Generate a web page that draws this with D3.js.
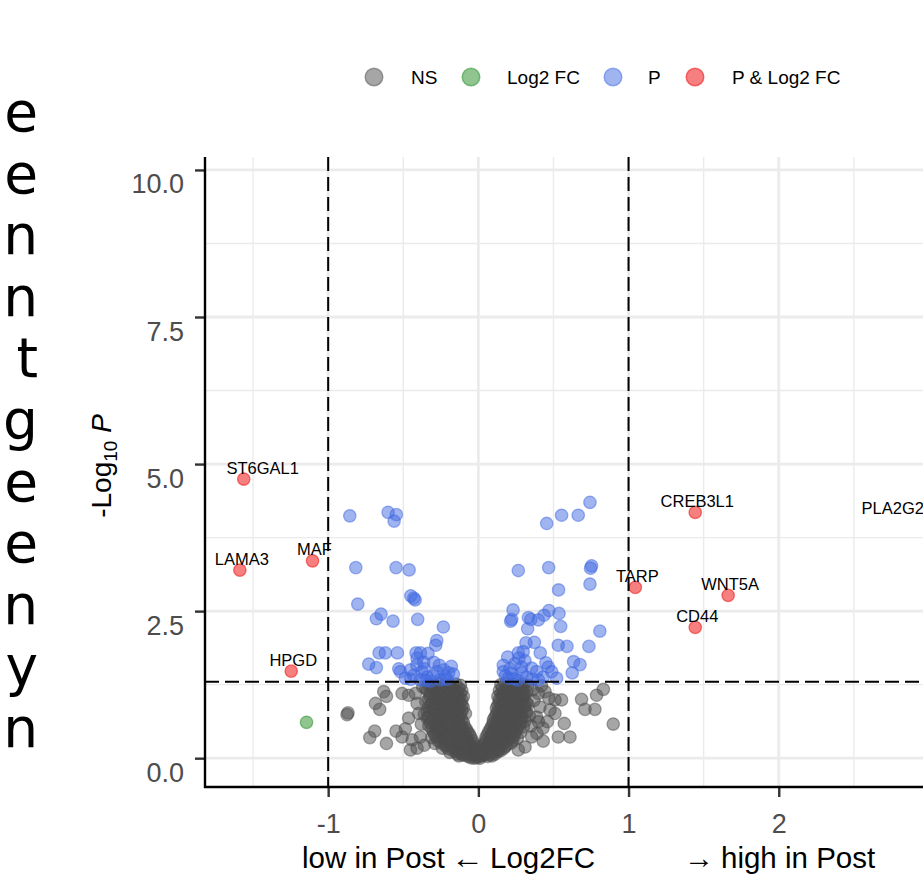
<!DOCTYPE html>
<html><head><meta charset="utf-8">
<script src="https://cdn.jsdelivr.net/npm/d3@7"></script>
<style>body{margin:0;background:#fff}svg{display:block}</style>
</head><body>
<svg id="chart" width="923" height="884"></svg>
<script>
// ---------------- DATA ----------------
const categories = ["NS", "Log2 FC", "P", "P & Log2 FC"];
const xTicks = [-1, 0, 1, 2];
const xTickLabels = ["-1", "0", "1", "2"];
const xMinorTicks = [-1.5, -0.5, 0.5, 1.5, 2.5];
const yTicks = [0, 2.5, 5, 7.5, 10];
const yTickLabels = ["0.0", "2.5", "5.0", "7.5", "10.0"];
const yMinorTicks = [1.25, 3.75, 6.25, 8.75];
const fcCutoff = 1;
const pCutoff = 0.05;
const xTitleParts = ["low in Post", "\u2190", "Log2FC", "\u2192", "high in Post"];

// log2FC, -log10 P for "P & Log2 FC" genes
const sigGenes = ["ST6GAL1", "LAMA3", "MAF", "HPGD", "CREB3L1", "TARP", "WNT5A", "CD44", "PLA2G2A"];
const sigLog2FC = [-1.562, -1.588, -1.104, -1.246, 1.444, 1.045, 1.663, 1.444, 3.25];
const sigNegLog10P = [4.745, 3.197, 3.355, 1.480, 4.178, 2.903, 2.767, 2.223, 4.05];

// "Log2 FC" only
const fcPoints = [[-1.144, 0.61]];

// "P" only (blue)
const pPoints = [
 [-0.856,4.12],[-0.601,4.18],[-0.546,4.14],[-0.561,4.03],[-0.816,3.24],[-0.548,3.24],[-0.461,3.20],
 [-0.803,2.62],[-0.450,2.76],[-0.430,2.72],[-0.421,2.69],[-0.648,2.45],[-0.679,2.37],[-0.568,2.33],
 [-0.404,2.36],[-0.233,2.23],[-0.277,2.00],[-0.284,1.92],[-0.661,1.79],[-0.619,1.79],[-0.539,1.79],
 [-0.415,1.79],[-0.386,1.79],[-0.335,1.78],[-0.730,1.60],[-0.679,1.54],[-0.530,1.52],[-0.408,1.70],
 [-0.364,1.63],[-0.297,1.63],[-0.180,1.56],[-0.166,1.43],[-0.452,1.50],[-0.430,1.41],[-0.375,1.47],
 [-0.341,1.38],[-0.275,1.47],[-0.231,1.50],[-0.220,1.39],[-0.486,1.36],[-0.519,1.47],[-0.319,1.31],
 [-0.253,1.33],[-0.386,1.33],[-0.198,1.45],[-0.41,1.58],[-0.36,1.52],[-0.30,1.40],[-0.26,1.58],
 [-0.21,1.34],[-0.35,1.32],[-0.45,1.34],
 [0.743,4.35],[0.554,4.13],[0.665,4.13],[0.455,3.99],[0.266,3.19],[0.468,3.24],[0.754,3.27],[0.747,3.23],
 [0.743,2.96],[0.534,2.86],[0.231,2.52],[0.215,2.33],[0.222,2.36],[0.333,2.39],[0.350,2.36],[0.399,2.35],
 [0.437,2.43],[0.470,2.51],[0.537,2.46],[0.548,2.24],[0.328,2.20],[0.809,2.16],[0.317,1.96],[0.373,1.97],
 [0.532,1.92],[0.590,1.90],[0.736,1.90],[0.412,1.79],[0.266,1.79],[0.299,1.81],[0.195,1.72],[0.634,1.64],
 [0.677,1.59],[0.625,1.45],[0.166,1.58],[0.166,1.47],[0.244,1.61],[0.288,1.55],[0.355,1.53],[0.388,1.47],
 [0.466,1.55],[0.488,1.47],[0.521,1.36],[0.222,1.44],[0.321,1.38],[0.200,1.36],[0.432,1.38],[0.261,1.33],
 [0.31,1.66],[0.27,1.70],[0.21,1.52],[0.45,1.62],[0.18,1.40],[0.36,1.34],[0.24,1.35],[0.40,1.33],[0.29,1.45]
];

// "NS" (grey)
const nsPoints = [
 // scattered outer points, left
 [-0.874,0.74],[-0.868,0.77],[-0.630,1.13],[-0.612,1.05],[-0.685,0.93],[-0.657,0.83],[-0.690,0.46],
 [-0.723,0.35],[-0.612,0.25],[-0.548,0.46],[-0.464,0.68],[-0.486,0.50],[-0.508,1.10],[-0.464,1.07],
 [-0.419,1.10],[-0.408,0.93],[-0.397,0.76],[-0.441,0.31],[-0.452,0.14],[-0.508,0.36],[-0.386,0.36],
 [-0.408,0.17],[-0.086,0.76],[-0.37,1.21],[-0.38,0.58],[-0.36,0.22],
 // scattered outer points, right
 [0.687,1.00],[0.787,1.07],[0.832,1.17],[0.710,0.83],[0.776,0.83],[0.898,0.58],[0.572,0.59],[0.532,0.36],
 [0.610,0.36],[0.432,0.29],[0.510,0.99],[0.554,0.99],[0.510,0.76],[0.477,0.82],[0.444,1.13],[0.399,1.10],
 [0.410,0.87],[0.388,0.70],[0.355,0.36],[0.311,0.19],[0.266,0.14],[0.166,1.10],[0.188,1.21],[0.46,0.62],
 [0.43,0.51],[0.35,0.55],[0.33,0.91],[0.36,1.16],[0.42,1.23],[0.30,1.04],[0.37,0.98],[0.34,0.72],
 [0.39,0.42],[0.33,1.24],[0.40,0.62],[0.47,1.02],
 // dense left arm
 [-0.33,1.26],[-0.29,1.24],[-0.26,1.27],[-0.22,1.25],[-0.19,1.23],[-0.15,1.26],[-0.12,1.24],
 [-0.31,1.21],[-0.24,1.20],[-0.17,1.21],[-0.35,1.19],[-0.28,1.19],[-0.20,1.18],[-0.13,1.19],
 [-0.34,1.15],[-0.30,1.17],[-0.27,1.13],[-0.24,1.16],[-0.21,1.14],[-0.17,1.17],[-0.14,1.13],[-0.11,1.15],
 [-0.32,1.10],[-0.26,1.09],[-0.22,1.11],[-0.18,1.10],[-0.15,1.08],[-0.12,1.10],
 [-0.32,1.05],[-0.28,1.07],[-0.25,1.03],[-0.23,1.06],[-0.20,1.04],[-0.16,1.06],[-0.13,1.03],[-0.10,1.05],
 [-0.33,1.00],[-0.29,1.01],[-0.26,0.99],[-0.22,1.00],[-0.19,0.99],[-0.14,1.00],[-0.11,0.99],
 [-0.35,0.96],[-0.31,0.94],[-0.27,0.97],[-0.24,0.93],[-0.21,0.95],[-0.18,0.96],[-0.15,0.94],[-0.12,0.95],
 [-0.32,0.90],[-0.28,0.91],[-0.25,0.89],[-0.22,0.90],[-0.17,0.91],[-0.14,0.89],[-0.11,0.90],
 [-0.33,0.86],[-0.30,0.84],[-0.26,0.87],[-0.23,0.85],[-0.19,0.83],[-0.16,0.86],[-0.13,0.84],[-0.10,0.86],
 [-0.34,0.80],[-0.29,0.81],[-0.24,0.80],[-0.21,0.79],[-0.17,0.81],[-0.14,0.79],[-0.11,0.80],
 [-0.36,0.75],[-0.32,0.77],[-0.28,0.74],[-0.25,0.76],[-0.22,0.73],[-0.18,0.75],[-0.15,0.77],[-0.12,0.74],
 [-0.33,0.70],[-0.29,0.69],[-0.26,0.71],[-0.23,0.69],[-0.19,0.70],[-0.16,0.69],[-0.13,0.70],
 [-0.31,0.65],[-0.27,0.63],[-0.24,0.66],[-0.21,0.64],[-0.17,0.66],[-0.14,0.63],[-0.11,0.65],[-0.34,0.68],
 [-0.32,0.60],[-0.28,0.59],[-0.25,0.61],[-0.20,0.59],[-0.16,0.60],[-0.13,0.59],[-0.10,0.61],
 [-0.33,0.55],[-0.29,0.56],[-0.26,0.53],[-0.22,0.55],[-0.19,0.57],[-0.16,0.54],[-0.12,0.56],[-0.09,0.53],
 [-0.31,0.50],[-0.28,0.51],[-0.24,0.49],[-0.21,0.50],[-0.18,0.51],[-0.14,0.49],[-0.11,0.50],[-0.08,0.49],
 [-0.30,0.45],[-0.27,0.46],[-0.23,0.44],[-0.20,0.47],[-0.17,0.45],[-0.13,0.43],[-0.10,0.46],[-0.07,0.44],
 [-0.29,0.40],[-0.25,0.41],[-0.22,0.39],[-0.19,0.40],[-0.15,0.41],[-0.12,0.39],[-0.09,0.40],[-0.06,0.41],
 [-0.31,0.35],[-0.28,0.36],[-0.24,0.34],[-0.21,0.37],[-0.18,0.35],[-0.14,0.33],[-0.11,0.36],[-0.08,0.34],[-0.05,0.36],
 [-0.27,0.30],[-0.23,0.29],[-0.20,0.31],[-0.16,0.30],[-0.13,0.29],[-0.10,0.31],[-0.07,0.29],[-0.04,0.30],
 [-0.29,0.25],[-0.25,0.26],[-0.22,0.24],[-0.19,0.27],[-0.15,0.25],[-0.12,0.23],[-0.09,0.26],[-0.06,0.24],[-0.03,0.25],
 [-0.22,0.21],[-0.18,0.21],[-0.14,0.20],[-0.11,0.21],[-0.08,0.20],[-0.05,0.21],[-0.02,0.20],
 [-0.24,0.17],[-0.20,0.16],[-0.17,0.18],[-0.13,0.17],[-0.10,0.15],[-0.07,0.18],[-0.04,0.16],[-0.02,0.17],
 [-0.17,0.13],[-0.14,0.14],[-0.11,0.13],[-0.08,0.13],[-0.05,0.14],[-0.02,0.13],
 [-0.19,0.10],[-0.15,0.11],[-0.12,0.09],[-0.09,0.10],[-0.06,0.11],[-0.03,0.09],[-0.01,0.10],
 [-0.14,0.07],[-0.11,0.07],[-0.08,0.06],[-0.05,0.07],[-0.02,0.07],
 [-0.13,0.04],[-0.10,0.05],[-0.07,0.03],[-0.04,0.04],[-0.02,0.05],[0.00,0.03],
 [-0.05,0.01],[-0.03,0.00],[-0.01,0.01],[0.01,0.00],
 // dense right arm
 [0.15,1.25],[0.18,1.27],[0.21,1.24],[0.24,1.26],[0.27,1.23],[0.30,1.25],[0.20,1.20],[0.26,1.19],
 [0.16,1.20],[0.23,1.21],[0.29,1.20],
 [0.14,1.15],[0.17,1.13],[0.20,1.16],[0.23,1.14],[0.26,1.17],[0.29,1.15],[0.32,1.13],
 [0.15,1.10],[0.18,1.09],[0.21,1.11],[0.24,1.10],[0.27,1.09],[0.30,1.11],
 [0.13,1.05],[0.16,1.06],[0.19,1.03],[0.22,1.05],[0.25,1.07],[0.28,1.04],[0.31,1.08],
 [0.14,1.00],[0.17,0.99],[0.20,1.01],[0.23,0.99],[0.26,1.00],[0.29,1.02],
 [0.14,0.95],[0.17,0.94],[0.20,0.96],[0.23,0.93],[0.26,0.95],[0.29,0.97],[0.32,0.94],
 [0.13,0.90],[0.16,0.89],[0.19,0.91],[0.22,0.90],[0.25,0.89],[0.28,0.91],[0.31,0.89],
 [0.12,0.85],[0.15,0.87],[0.18,0.84],[0.21,0.86],[0.24,0.83],[0.27,0.85],[0.30,0.87],
 [0.13,0.80],[0.16,0.79],[0.19,0.81],[0.22,0.80],[0.25,0.79],[0.28,0.81],[0.31,0.80],
 [0.12,0.75],[0.14,0.73],[0.17,0.76],[0.20,0.74],[0.23,0.75],[0.26,0.77],[0.29,0.74],[0.32,0.78],
 [0.11,0.70],[0.14,0.69],[0.17,0.71],[0.20,0.69],[0.23,0.70],[0.26,0.71],[0.29,0.69],
 [0.10,0.65],[0.13,0.66],[0.16,0.63],[0.19,0.65],[0.22,0.67],[0.25,0.64],[0.28,0.66],[0.31,0.63],
 [0.10,0.60],[0.13,0.59],[0.16,0.61],[0.19,0.60],[0.22,0.59],[0.25,0.61],[0.28,0.60],
 [0.09,0.55],[0.12,0.56],[0.15,0.53],[0.18,0.55],[0.21,0.57],[0.24,0.54],[0.27,0.56],[0.30,0.53],
 [0.08,0.50],[0.11,0.51],[0.14,0.49],[0.17,0.50],[0.20,0.51],[0.23,0.49],[0.26,0.50],
 [0.07,0.45],[0.10,0.46],[0.13,0.44],[0.16,0.47],[0.19,0.45],[0.22,0.43],[0.25,0.46],[0.28,0.44],
 [0.06,0.40],[0.09,0.41],[0.12,0.39],[0.15,0.40],[0.18,0.41],[0.21,0.39],[0.24,0.40],
 [0.05,0.35],[0.08,0.36],[0.11,0.34],[0.14,0.37],[0.17,0.35],[0.20,0.33],[0.23,0.36],[0.26,0.34],
 [0.05,0.30],[0.08,0.29],[0.11,0.31],[0.14,0.30],[0.17,0.29],[0.20,0.31],[0.23,0.30],
 [0.04,0.25],[0.07,0.26],[0.10,0.24],[0.13,0.27],[0.16,0.25],[0.19,0.23],[0.22,0.26],
 [0.03,0.21],[0.06,0.20],[0.09,0.21],[0.12,0.20],[0.15,0.21],[0.18,0.20],
 [0.03,0.17],[0.05,0.16],[0.08,0.18],[0.11,0.17],[0.14,0.15],[0.17,0.17],
 [0.03,0.13],[0.06,0.14],[0.09,0.13],[0.12,0.14],[0.15,0.13],
 [0.02,0.10],[0.04,0.11],[0.07,0.09],[0.10,0.10],[0.13,0.11],
 [0.02,0.07],[0.05,0.07],[0.08,0.06],[0.11,0.07],
 [0.02,0.04],[0.04,0.05],[0.06,0.03],[0.09,0.04]
];

// cut-off text of a neighbouring panel (only last letters visible)
const sideTextFragments = ["e", "e", "n", "n", "t", "g", "e", "e", "n", "y", "n"];

// ---------------- STYLE ----------------
const catColors = {"NS": "#4d4d4d", "Log2 FC": "#228B22", "P": "#4169E1", "P & Log2 FC": "#EE0000"};
const FONT = "'Liberation Sans', Arial, Helvetica, sans-serif";
const labelNudge = {"ST6GAL1": 17};
const xTitleX = [302, 451, 490, 684, 721];
const xTitleLen = [null, 33, null, 30, null];

const svg = d3.select("#chart");
const panel = {left: 205, right: 927, top: 157, bottom: 787};

const x = d3.scaleLinear().domain([-1.82, 2.987]).range([panel.left, panel.right]);
const y = d3.scaleLinear().domain([-0.49, 10.22]).range([panel.bottom, panel.top]);

svg.append("defs").append("clipPath").attr("id", "pclip")
  .append("rect").attr("x", panel.left).attr("y", panel.top)
  .attr("width", panel.right - panel.left).attr("height", panel.bottom - panel.top);

// side text
svg.append("g").selectAll("text").data(sideTextFragments).join("text")
  .attr("x", 38).attr("y", (d, i) => 131 + i * 61.6)
  .attr("text-anchor", "end").attr("font-family", "'DejaVu Sans', sans-serif").attr("font-size", 55)
  .attr("fill", "#000").text(d => d);

// grid
const grid = svg.append("g");
grid.selectAll(".xmin").data(xMinorTicks).join("line")
  .attr("x1", d => x(d)).attr("x2", d => x(d)).attr("y1", panel.top).attr("y2", panel.bottom)
  .attr("stroke", "#ebebeb").attr("stroke-width", 1.4);
grid.selectAll(".ymin").data(yMinorTicks).join("line")
  .attr("y1", d => y(d)).attr("y2", d => y(d)).attr("x1", panel.left).attr("x2", panel.right)
  .attr("stroke", "#ebebeb").attr("stroke-width", 1.4);
grid.selectAll(".xmaj").data(xTicks).join("line")
  .attr("x1", d => x(d)).attr("x2", d => x(d)).attr("y1", panel.top).attr("y2", panel.bottom)
  .attr("stroke", "#ebebeb").attr("stroke-width", 2.8);
grid.selectAll(".ymaj").data(yTicks).join("line")
  .attr("y1", d => y(d)).attr("y2", d => y(d)).attr("x1", panel.left).attr("x2", panel.right)
  .attr("stroke", "#ebebeb").attr("stroke-width", 2.8);

// points
const pts = svg.append("g").attr("clip-path", "url(#pclip)");
function drawPts(data, cat) {
  const c = catColors[cat];
  pts.append("g").selectAll("circle").data(data).join("circle")
    .attr("cx", d => x(d[0])).attr("cy", d => y(d[1])).attr("r", 6.2)
    .attr("fill", c).attr("fill-opacity", 0.5)
    .attr("stroke", c).attr("stroke-opacity", 0.5).attr("stroke-width", 1.3);
}
drawPts(nsPoints, "NS");
drawPts(fcPoints, "Log2 FC");
drawPts(pPoints, "P");
drawPts(sigGenes.map((g, i) => [sigLog2FC[i], sigNegLog10P[i]]), "P & Log2 FC");

// cutoff lines
const cut = svg.append("g").attr("stroke", "#000").attr("stroke-width", 2).attr("stroke-dasharray", "14,6");
cut.selectAll(".v").data([-fcCutoff, fcCutoff]).join("line")
  .attr("x1", d => x(d)).attr("x2", d => x(d)).attr("y1", panel.top).attr("y2", panel.bottom);
cut.append("line").attr("x1", panel.left).attr("x2", panel.right)
  .attr("y1", y(-Math.log10(pCutoff))).attr("y2", y(-Math.log10(pCutoff)));

// labels
const lab = svg.append("g").attr("font-family", FONT).attr("font-size", 16.5).attr("fill", "#000");
sigGenes.forEach((g, i) => {
  const t = lab.append("text").attr("text-anchor", "middle").text(g);
  const w = t.node().getComputedTextLength();
  let cx = x(sigLog2FC[i]) + 2 + (labelNudge[g] || 0);
  cx = Math.min(cx, panel.right + 8 - w / 2);
  t.attr("x", cx).attr("y", y(sigNegLog10P[i]) - 5.5);
});

// axes
const yAxis = svg.append("g").attr("transform", `translate(${panel.left},0)`)
  .call(d3.axisLeft(y).tickValues(yTicks).tickFormat((d, i) => yTickLabels[i]).tickSize(10).tickSizeOuter(0));
yAxis.select(".domain").remove();
yAxis.selectAll(".tick line").attr("stroke", "#333").attr("stroke-width", 2.4);
yAxis.selectAll(".tick text").attr("x", -21).attr("dy", 23).attr("fill", "#4d4d4d")
  .attr("font-family", FONT).attr("font-size", 27);

const xAxis = svg.append("g").attr("transform", `translate(0,${panel.bottom})`)
  .call(d3.axisBottom(x).tickValues(xTicks).tickFormat((d, i) => xTickLabels[i]).tickSize(10).tickSizeOuter(0));
xAxis.select(".domain").remove();
xAxis.selectAll(".tick line").attr("stroke", "#333").attr("stroke-width", 2.4);
xAxis.selectAll(".tick text").attr("y", 0).attr("dy", 46).attr("fill", "#4d4d4d")
  .attr("font-family", FONT).attr("font-size", 27);

svg.append("line").attr("x1", panel.left).attr("x2", panel.left).attr("y1", panel.top).attr("y2", panel.bottom + 1)
  .attr("stroke", "#000").attr("stroke-width", 2.4);
svg.append("line").attr("x1", panel.left - 1).attr("x2", 923).attr("y1", panel.bottom).attr("y2", panel.bottom)
  .attr("stroke", "#000").attr("stroke-width", 2.4);

// x axis title (pieces; arrows stretched horizontally)
svg.append("g").selectAll("text").data(xTitleParts).join("text")
  .attr("x", (d, i) => xTitleX[i]).attr("y", 868)
  .attr("font-family", FONT).attr("font-size", 29.5)
  .each(function (d, i) {
    if (xTitleLen[i]) d3.select(this).attr("textLength", xTitleLen[i]).attr("lengthAdjust", "spacingAndGlyphs");
  })
  .attr("fill", "#000").text(d => d);

const yt = svg.append("text").attr("transform", "translate(111,466) rotate(-90)")
  .attr("text-anchor", "middle").attr("font-family", FONT).attr("font-size", 28).attr("fill", "#000");
yt.append("tspan").text("-Log");
yt.append("tspan").attr("font-size", 19).attr("dy", 6).text("10");
yt.append("tspan").attr("dy", -6).text(" ");
yt.append("tspan").attr("font-style", "italic").text("P");

// legend
const legX = [374, 471, 613, 695];
const legTX = [411, 507, 648, 732];
const leg = svg.append("g");
categories.forEach((c, i) => {
  leg.append("circle").attr("cx", legX[i]).attr("cy", 77).attr("r", 8.8)
    .attr("fill", catColors[c]).attr("fill-opacity", 0.5)
    .attr("stroke", catColors[c]).attr("stroke-opacity", 0.5).attr("stroke-width", 1.5);
  leg.append("text").attr("x", legTX[i]).attr("y", 84).attr("font-family", FONT)
    .attr("font-size", 19).attr("fill", "#000").text(c);
});
</script>
</body></html>
